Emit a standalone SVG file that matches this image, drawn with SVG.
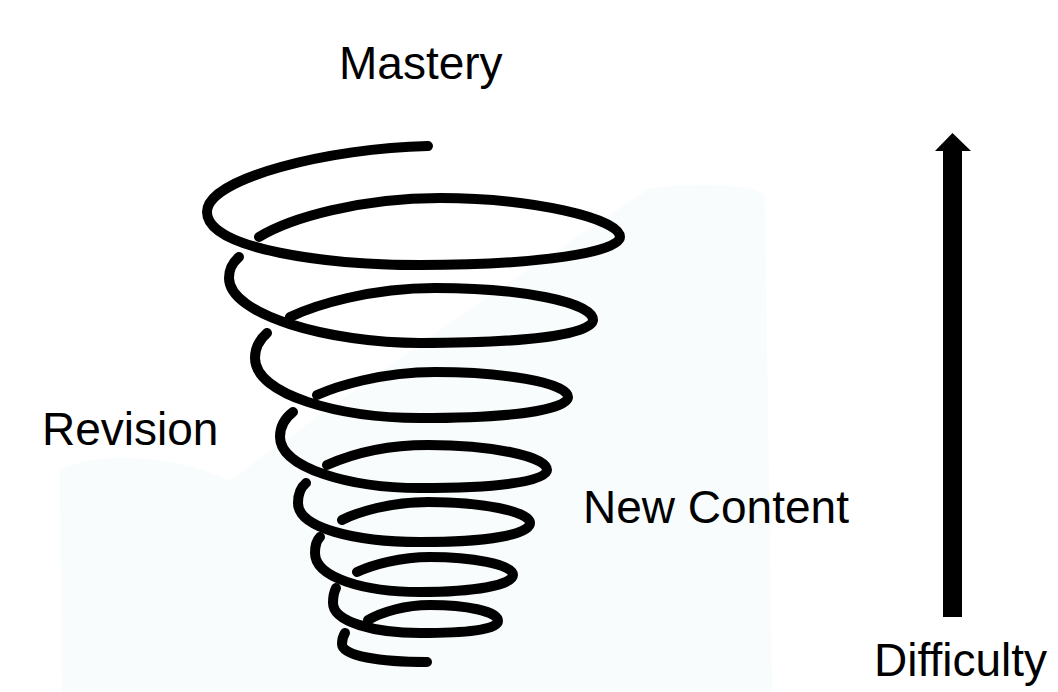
<svg xmlns="http://www.w3.org/2000/svg" width="1058" height="692" viewBox="0 0 1058 692">
<style>
.lbl{font-family:"Liberation Sans",Arial,sans-serif;font-size:46px;fill:#000}
.coil{fill:none;stroke:#000;stroke-width:10;stroke-linecap:round;stroke-linejoin:round}
</style>
<rect width="1058" height="692" fill="#fff"/>
<path d="M650,188 C700,182 750,184 765,195 L772,692 L62,692 L60,470 C100,450 170,455 230,480 C300,430 420,340 650,188 Z" fill="#f8fcfd"/>
<g id="spiral">
<path class="coil" d="M428,146 C330,148 207,178 207,212 C207,250 330,265 420,265 C540,265 620,252 620,237 C620,218 530,198 440,198 C360,198 290,218 259,237"/>
<path class="coil" d="M239,257 C231,264 229,270 229,278 C229,315 330,343 420,343 C520,343 593,335 593,320 C593,302 520,288 435,288 C370,288 315,305 290,317"/>
<path class="coil" d="M267,333 C259,340 255,348 255,358 C255,395 340,418 420,418 C510,418 568,410 568,397 C568,382 500,372 435,372 C380,372 335,387 317,395"/>
<path class="coil" d="M293,412 C285,418 280,426 280,437 C280,468 350,488 420,488 C495,488 547,482 547,470 C547,456 490,445 428,445 C380,445 345,457 327,465"/>
<path class="coil" d="M306,483 C300,488 298,495 298,503 C298,528 355,542 420,542 C485,542 530,535 530,523 C530,511 480,502 428,502 C390,502 358,512 342,520"/>
<path class="coil" d="M320,537 C316,541 315,547 315,553 C315,578 365,592 420,592 C475,592 513,585 513,575 C513,564 470,557 430,557 C400,557 372,565 357,572"/>
<path class="coil" d="M336,588 C334,592 333,597 333,603 C333,622 375,633 420,633 C465,633 498,630 498,621 C498,611 465,605 430,605 C405,605 382,612 368,620"/>
<path class="coil" d="M345,633 C343,636 342,640 342,644 C342,656 380,662 427,662"/>
</g>
<g id="connectors">
<path d="M943,617 L943,151 L935,151 L952.5,133 L971,151 L962,151 L962,617 Z" fill="#000"/>
</g>
<g id="mastery"><text class="lbl" x="339" y="79">Mastery</text></g>
<g id="revision"><text class="lbl" x="42" y="445">Revision</text></g>
<g id="new-content"><text class="lbl" x="583" y="523">New Content</text></g>
<g id="difficulty"><text class="lbl" x="874" y="676">Difficulty</text></g>
</svg>
